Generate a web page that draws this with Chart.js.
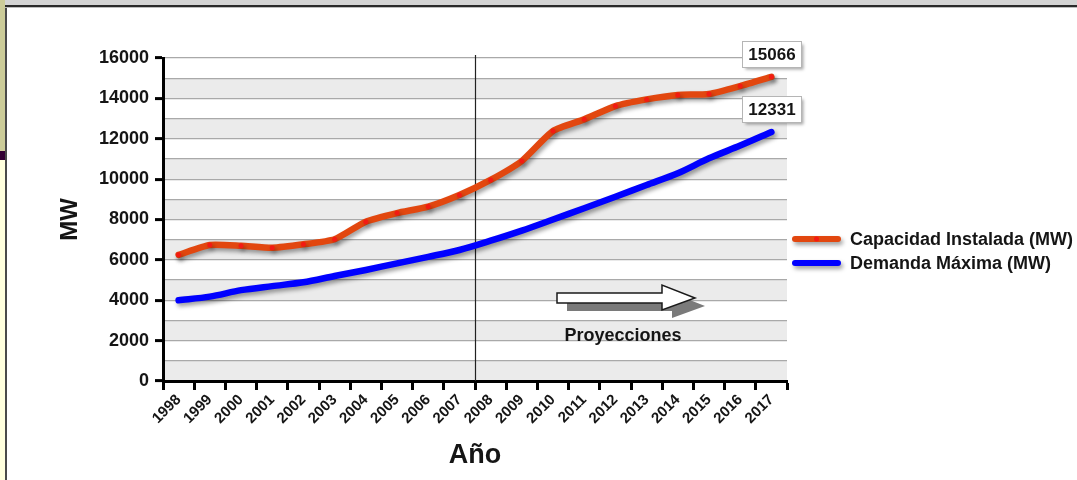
<!DOCTYPE html>
<html>
<head>
<meta charset="utf-8">
<script src="https://cdn.jsdelivr.net/npm/chart.js@4.4.1/dist/chart.umd.min.js"></script>
<style>
  html, body { margin: 0; padding: 0; background: #fff; overflow: hidden; }
  #wrap { width: 1077px; height: 480px; position: relative; }
  canvas { display: block; }
</style>
</head>
<body>
<div id="wrap"><canvas id="c" width="1077" height="480"></canvas></div>
<script>
// ---- data ----
const years = ['1998', '1999', '2000', '2001', '2002', '2003', '2004', '2005', '2006', '2007',
               '2008', '2009', '2010', '2011', '2012', '2013', '2014', '2015', '2016', '2017'];
const capacidadInstalada = [6250, 6740, 6700, 6600, 6770, 7020, 7890, 8320, 8640, 9215,
                            9960, 10900, 12385, 12960, 13620, 13950, 14170, 14220, 14610, 15066];
const demandaMaxima = [4000, 4180, 4500, 4700, 4890, 5200, 5500, 5830, 6150, 6490,
                       6950, 7450, 8000, 8560, 9130, 9710, 10290, 11030, 11660, 12331];
const seriesNames = ['Capacidad Instalada (MW)', 'Demanda Máxima (MW)'];
const yMin = 0;
const yMax = 16000;
const yStep = 1000;        // grid lines / bands
const yLabelStep = 2000;   // labelled ticks
const projectionStart = '2008';
const projectionLabel = 'Proyecciones';
const xTitle = 'Año';
const yTitle = 'MW';

const FONT = "'Liberation Sans', Arial, Helvetica, sans-serif";
Chart.defaults.font.family = FONT;

const RED = '#e2470f';
const BLUE = '#0000ff';

// page frame (left strip + top bar) and alternating bands behind the grid
const backdrop = {
  id: 'backdrop',
  beforeDraw(chart) {
    const { ctx, width, height, chartArea: a, scales: { y } } = chart;
    ctx.save();
    ctx.fillStyle = '#ffffff';
    ctx.fillRect(0, 0, width, height);
    // left strip
    ctx.fillStyle = '#cccc99'; ctx.fillRect(0, 0, 5, 151);
    ctx.fillStyle = '#330033'; ctx.fillRect(0, 151, 5, 9);
    ctx.fillStyle = '#ffffdd'; ctx.fillRect(0, 160, 5, height - 160);
    ctx.fillStyle = '#4a4a4a'; ctx.fillRect(5, 5, 2, height - 5);
    // top bar
    ctx.fillStyle = '#d4d4d4'; ctx.fillRect(5, 0, width - 5, 5);
    ctx.fillStyle = '#2a2a2a'; ctx.fillRect(5, 5, width - 5, 2);
    ctx.fillStyle = '#bdbdbd'; ctx.fillRect(5, 7, width - 5, 1);
    // bands
    ctx.fillStyle = '#ebebeb';
    for (let v = yMin; v < yMax; v += 2 * yStep) {
      const yb = y.getPixelForValue(v);
      const yt = y.getPixelForValue(v + yStep);
      ctx.fillRect(a.left, yt, a.right - a.left, yb - yt);
    }
    ctx.restore();
  }
};

// vertical divider where projections begin
const divider = {
  id: 'divider',
  beforeDatasetsDraw(chart) {
    const { ctx, chartArea: a, scales: { x } } = chart;
    const i = years.indexOf(projectionStart);
    const px = Math.round((x.getPixelForValue(i - 1) + x.getPixelForValue(i)) / 2) + 0.5;
    ctx.save();
    ctx.strokeStyle = '#222';
    ctx.lineWidth = 1.2;
    ctx.beginPath();
    ctx.moveTo(px, a.top - 3);
    ctx.lineTo(px, a.bottom);
    ctx.stroke();
    ctx.restore();
  }
};

// soft drop shadow under each line
const lineShadow = {
  id: 'lineShadow',
  beforeDatasetDraw(chart) {
    const ctx = chart.ctx;
    ctx.save();
    ctx.shadowColor = 'rgba(0,0,0,0.38)';
    ctx.shadowBlur = 4;
    ctx.shadowOffsetX = 2;
    ctx.shadowOffsetY = 3;
  },
  afterDatasetDraw(chart) {
    chart.ctx.restore();
  }
};

// boxed value at the last point, legend, and projection arrow
const overlay = {
  id: 'overlay',
  afterDraw(chart) {
    const { ctx, chartArea: a } = chart;
    ctx.save();

    // end-value boxes
    chart.data.datasets.forEach((ds, di) => {
      const meta = chart.getDatasetMeta(di);
      const last = meta.data[meta.data.length - 1];
      const value = ds.data[ds.data.length - 1];
      const txt = String(value);
      ctx.font = `bold 17px ${FONT}`;
      const w = 59, h = 26;
      const bx = Math.round(last.x - w / 2) + 0.5;
      const by = Math.round(last.y - 10 - h) + 0.5;
      ctx.save();
      ctx.shadowColor = 'rgba(0,0,0,0.35)';
      ctx.shadowBlur = 3;
      ctx.shadowOffsetX = 2;
      ctx.shadowOffsetY = 2;
      ctx.fillStyle = '#fff';
      ctx.fillRect(bx, by, w, h);
      ctx.restore();
      ctx.strokeStyle = '#b5b5b5';
      ctx.lineWidth = 1;
      ctx.strokeRect(bx, by, w, h);
      ctx.fillStyle = '#151515';
      ctx.textAlign = 'center';
      ctx.textBaseline = 'middle';
      ctx.fillText(txt, bx + w / 2, by + h / 2 + 1);
    });

    // legend
    const lx0 = 795, lx1 = 838, tx = 850;
    const rows = [239, 263];
    chart.data.datasets.forEach((ds, di) => {
      const yy = rows[di];
      ctx.save();
      ctx.shadowColor = 'rgba(0,0,0,0.38)';
      ctx.shadowBlur = 4;
      ctx.shadowOffsetX = 2;
      ctx.shadowOffsetY = 3;
      ctx.strokeStyle = ds.borderColor;
      ctx.lineWidth = 6;
      ctx.lineCap = 'round';
      ctx.beginPath();
      ctx.moveTo(lx0, yy);
      ctx.lineTo(lx1, yy);
      ctx.stroke();
      ctx.restore();
      if (ds.pointRadius > 0) {
        ctx.fillStyle = ds.pointBackgroundColor;
        ctx.beginPath();
        ctx.arc((lx0 + lx1) / 2, yy, ds.pointRadius, 0, Math.PI * 2);
        ctx.fill();
      }
      ctx.fillStyle = '#151515';
      ctx.font = `bold 18px ${FONT}`;
      ctx.textAlign = 'left';
      ctx.textBaseline = 'middle';
      ctx.fillText(ds.label, tx, yy + 1);
    });

    // projection arrow (shadow first, then outlined white arrow)
    const ax = a.left + 394, ay = 298;
    const arrow = (ox, oy) => {
      ctx.beginPath();
      ctx.moveTo(ax + ox, ay - 5 + oy);
      ctx.lineTo(ax + 105 + ox, ay - 5 + oy);
      ctx.lineTo(ax + 105 + ox, ay - 13 + oy);
      ctx.lineTo(ax + 138 + ox, ay + oy);
      ctx.lineTo(ax + 105 + ox, ay + 12 + oy);
      ctx.lineTo(ax + 105 + ox, ay + 5 + oy);
      ctx.lineTo(ax + ox, ay + 5 + oy);
      ctx.closePath();
    };
    ctx.fillStyle = '#7a7a7a';
    arrow(10, 8);
    ctx.fill();
    ctx.fillStyle = '#ffffff';
    ctx.strokeStyle = '#1a1a1a';
    ctx.lineWidth = 1.5;
    arrow(0, 0);
    ctx.fill();
    ctx.stroke();

    ctx.fillStyle = '#151515';
    ctx.font = `bold 18px ${FONT}`;
    ctx.textAlign = 'center';
    ctx.textBaseline = 'middle';
    ctx.fillText(projectionLabel, ax + 66, 336);

    ctx.restore();
  }
};

new Chart(document.getElementById('c'), {
  type: 'line',
  data: {
    labels: years,
    datasets: [
      {
        label: seriesNames[0],
        data: capacidadInstalada,
        borderColor: RED,
        borderWidth: 6.5,
        borderCapStyle: 'round',
        borderJoinStyle: 'round',
        tension: 0.2,
        pointRadius: 2.5,
        pointBackgroundColor: '#f31a12',
        pointBorderWidth: 0,
        fill: false
      },
      {
        label: seriesNames[1],
        data: demandaMaxima,
        borderColor: BLUE,
        borderWidth: 6.5,
        borderCapStyle: 'round',
        borderJoinStyle: 'round',
        tension: 0.3,
        pointRadius: 0,
        fill: false
      }
    ]
  },
  options: {
    responsive: false,
    animation: false,
    devicePixelRatio: 1,
    layout: { padding: { left: 10, right: 290, top: 58, bottom: 3 } },
    plugins: {
      legend: { display: false },
      tooltip: { enabled: false }
    },
    scales: {
      x: {
        type: 'category',
        offset: true,
        grid: {
          offset: true,
          drawOnChartArea: false,
          tickLength: 9,
          tickWidth: 3,
          tickColor: '#000'
        },
        border: { display: true, color: '#000', width: 3 },
        ticks: {
          autoSkip: false,
          minRotation: 45,
          maxRotation: 45,
          padding: 1,
          color: '#151515',
          font: { size: 15, weight: 'bold' }
        },
        title: {
          display: true,
          text: xTitle,
          color: '#151515',
          font: { size: 27, weight: 'bold' },
          padding: { top: 0, bottom: 5 }
        },
        afterFit(scale) { scale.height = 96; }
      },
      y: {
        min: yMin,
        max: yMax,
        grid: {
          color: '#a9a9a9',
          lineWidth: 1.2,
          tickLength: 8,
          tickWidth: 3,
          tickColor: (c) => (c.tick && c.tick.value % yLabelStep === 0) ? '#000' : 'rgba(0,0,0,0)'
        },
        border: { display: true, color: '#000', width: 3 },
        ticks: {
          stepSize: yStep,
          autoSkip: false,
          padding: 6,
          color: '#151515',
          font: { size: 18, weight: 'bold' },
          callback: (v) => (v % yLabelStep === 0) ? String(v) : ''
        },
        title: {
          display: true,
          text: yTitle,
          color: '#151515',
          font: { size: 24, weight: 'bold' },
          padding: { top: 46, bottom: 0 }
        },
        afterFit(scale) { scale.width = 153; }
      }
    }
  },
  plugins: [backdrop, divider, lineShadow, overlay]
});
</script>
</body>
</html>
